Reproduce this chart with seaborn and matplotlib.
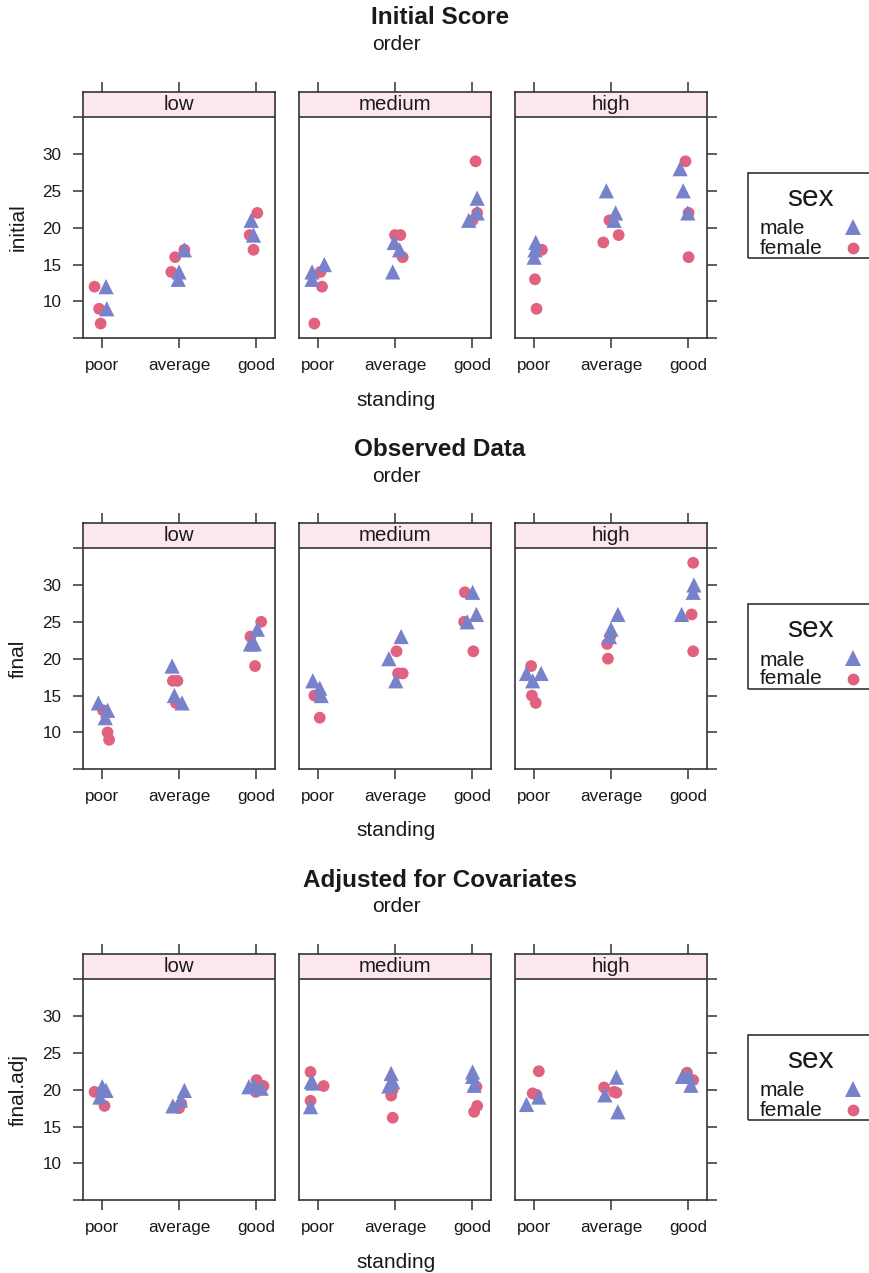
import matplotlib
matplotlib.use("Agg")
import matplotlib.pyplot as plt
import pandas as pd
import seaborn as sns
from matplotlib.patches import Rectangle
from matplotlib.lines import Line2D

sns.set_theme(style="white")
plt.rcParams['font.family'] = ['Liberation Sans', 'DejaVu Sans']

ORDERS = ["low", "medium", "high"]
STANDINGS = ["poor", "average", "good"]
SECTION_TITLES = ["Initial Score", "Observed Data", "Adjusted for Covariates"]
Y_LABELS = ["initial", "final", "final.adj"]
Y_TICKS = [5, 10, 15, 20, 25, 30, 35]
Y_TICK_LABELS = ["", "10", "15", "20", "25", "30", ""]
LEGEND_TITLE = "sex"
LEGEND_LABELS = ["male", "female"]

# (order, standing, sex, value, horizontal jitter)
initial_points = [
    ("low", "poor", "female", 12, -0.10), ("low", "poor", "male", 12, 0.05),
    ("low", "poor", "female", 9, -0.04), ("low", "poor", "male", 9, 0.06),
    ("low", "poor", "female", 7, -0.02),
    ("low", "average", "female", 14, -0.10), ("low", "average", "female", 16, -0.05),
    ("low", "average", "male", 14, 0.00), ("low", "average", "male", 13, -0.01),
    ("low", "average", "female", 17, 0.07), ("low", "average", "male", 17, 0.07),
    ("low", "good", "female", 22, 0.02), ("low", "good", "male", 21, -0.06),
    ("low", "good", "female", 19, -0.08), ("low", "good", "male", 19, -0.03),
    ("low", "good", "female", 17, -0.03),
    ("medium", "poor", "male", 14, -0.08), ("medium", "poor", "male", 13, -0.08),
    ("medium", "poor", "female", 14, 0.03), ("medium", "poor", "male", 15, 0.08),
    ("medium", "poor", "female", 12, 0.05), ("medium", "poor", "female", 7, -0.05),
    ("medium", "average", "female", 19, 0.00), ("medium", "average", "female", 19, 0.07),
    ("medium", "average", "male", 18, -0.01), ("medium", "average", "male", 17, 0.06),
    ("medium", "average", "female", 16, 0.10), ("medium", "average", "male", 14, -0.03),
    ("medium", "good", "female", 29, 0.05), ("medium", "good", "male", 24, 0.07),
    ("medium", "good", "female", 22, 0.07), ("medium", "good", "male", 22, 0.07),
    ("medium", "good", "male", 21, -0.04), ("medium", "good", "female", 21, 0.01),
    ("high", "poor", "male", 18, 0.02), ("high", "poor", "male", 17, 0.01),
    ("high", "poor", "male", 16, 0.00), ("high", "poor", "female", 17, 0.10),
    ("high", "poor", "female", 13, 0.01), ("high", "poor", "female", 9, 0.03),
    ("high", "average", "male", 25, -0.06), ("high", "average", "male", 22, 0.06),
    ("high", "average", "male", 21, 0.04), ("high", "average", "female", 21, -0.02),
    ("high", "average", "female", 19, 0.10), ("high", "average", "female", 18, -0.10),
    ("high", "good", "female", 29, -0.03), ("high", "good", "male", 28, -0.10),
    ("high", "good", "male", 25, -0.06), ("high", "good", "female", 22, 0.01),
    ("high", "good", "male", 22, 0.00), ("high", "good", "female", 16, 0.01),
]

final_points = [
    ("low", "poor", "male", 14, -0.05), ("low", "poor", "female", 13, 0.01),
    ("low", "poor", "male", 13, 0.07), ("low", "poor", "male", 12, 0.04),
    ("low", "poor", "female", 10, 0.07), ("low", "poor", "female", 9, 0.09),
    ("low", "average", "male", 19, -0.09), ("low", "average", "female", 17, -0.08),
    ("low", "average", "female", 17, -0.02), ("low", "average", "male", 15, -0.06),
    ("low", "average", "female", 14, -0.04), ("low", "average", "male", 14, 0.04),
    ("low", "good", "female", 25, 0.07), ("low", "good", "male", 24, 0.02),
    ("low", "good", "female", 23, -0.07), ("low", "good", "male", 22, -0.07),
    ("low", "good", "male", 22, -0.02), ("low", "good", "female", 19, -0.01),
    ("medium", "poor", "male", 17, -0.07), ("medium", "poor", "male", 16, 0.02),
    ("medium", "poor", "female", 15, -0.05), ("medium", "poor", "female", 15, 0.00),
    ("medium", "poor", "male", 15, 0.04), ("medium", "poor", "female", 12, 0.02),
    ("medium", "average", "male", 23, 0.08), ("medium", "average", "female", 21, 0.02),
    ("medium", "average", "male", 20, -0.08), ("medium", "average", "female", 18, 0.04),
    ("medium", "average", "female", 18, 0.10), ("medium", "average", "male", 17, 0.01),
    ("medium", "good", "female", 29, -0.09), ("medium", "good", "male", 29, 0.01),
    ("medium", "good", "male", 26, 0.06), ("medium", "good", "female", 25, -0.10),
    ("medium", "good", "male", 25, -0.06), ("medium", "good", "female", 21, 0.02),
    ("high", "poor", "female", 19, -0.04), ("high", "poor", "male", 18, -0.10),
    ("high", "poor", "male", 18, 0.09), ("high", "poor", "male", 17, -0.02),
    ("high", "poor", "female", 15, -0.03), ("high", "poor", "female", 14, 0.02),
    ("high", "average", "male", 26, 0.09), ("high", "average", "female", 23, -0.01),
    ("high", "average", "male", 24, 0.00), ("high", "average", "male", 23, -0.02),
    ("high", "average", "female", 22, -0.05), ("high", "average", "female", 20, -0.04),
    ("high", "good", "female", 33, 0.07), ("high", "good", "male", 30, 0.08),
    ("high", "good", "male", 29, 0.07), ("high", "good", "female", 26, 0.05),
    ("high", "good", "male", 26, -0.08), ("high", "good", "female", 21, 0.07),
]

adjusted_points = [
    ("low", "poor", "female", 19.7, -0.10), ("low", "poor", "female", 17.8, 0.03),
    ("low", "poor", "male", 20.4, 0.00), ("low", "poor", "male", 19.0, -0.03),
    ("low", "poor", "male", 19.9, 0.05),
    ("low", "average", "female", 17.5, 0.00), ("low", "average", "female", 18.1, 0.03),
    ("low", "average", "male", 17.8, -0.08), ("low", "average", "male", 18.6, 0.02),
    ("low", "average", "male", 19.9, 0.07),
    ("low", "good", "female", 21.3, 0.01), ("low", "good", "female", 20.5, 0.10),
    ("low", "good", "female", 19.7, 0.00), ("low", "good", "male", 20.4, -0.09),
    ("low", "good", "male", 20.2, 0.07), ("low", "good", "male", 20.6, -0.02),
    ("medium", "poor", "female", 22.4, -0.10), ("medium", "poor", "female", 20.5, 0.07),
    ("medium", "poor", "female", 18.5, -0.10), ("medium", "poor", "male", 21.1, -0.09),
    ("medium", "poor", "male", 20.9, -0.07), ("medium", "poor", "male", 17.7, -0.10),
    ("medium", "average", "female", 20.0, -0.03), ("medium", "average", "female", 19.2, -0.05),
    ("medium", "average", "female", 16.2, -0.03), ("medium", "average", "male", 22.2, -0.05),
    ("medium", "average", "male", 21.1, -0.03), ("medium", "average", "male", 20.5, -0.08),
    ("medium", "good", "female", 20.4, 0.06), ("medium", "good", "female", 17.8, 0.07),
    ("medium", "good", "female", 17.0, 0.03), ("medium", "good", "male", 22.4, 0.01),
    ("medium", "good", "male", 21.8, 0.01), ("medium", "good", "male", 20.6, 0.03),
    ("high", "poor", "female", 22.5, 0.06), ("high", "poor", "female", 19.5, -0.02),
    ("high", "poor", "female", 19.3, 0.03), ("high", "poor", "male", 19.0, 0.06),
    ("high", "poor", "male", 18.0, -0.10),
    ("high", "average", "female", 20.3, -0.09), ("high", "average", "female", 19.6, 0.07),
    ("high", "average", "female", 19.7, 0.04), ("high", "average", "male", 21.7, 0.07),
    ("high", "average", "male", 19.3, -0.08), ("high", "average", "male", 17.0, 0.09),
    ("high", "good", "female", 22.3, -0.01), ("high", "good", "female", 21.3, 0.07),
    ("high", "good", "male", 21.8, -0.07), ("high", "good", "male", 21.9, 0.01),
    ("high", "good", "male", 20.6, 0.04),
]

SECTIONS = [initial_points, final_points, adjusted_points]

COL_MALE = "#7882CA"
COL_FEMALE = "#E0627F"
STRIP_BG = "#FDE7EE"
EDGE = "#333333"
TEXT = "#1a1a1a"

W, H = 870, 1273
fig = plt.figure(figsize=(W / 100, H / 100), dpi=100)


def fx(x):
    return x / W


def fy(y):
    return 1 - y / H


SEC_DY = 431
PANEL_L0 = 83
PANEL_W = 192
PANEL_GAP = 216
AX_TOP = 92
AX_BOT = 338.3
YMIN, YSTRIP, YMAX = 5, 35, 38.4

for s, pts in enumerate(SECTIONS):
    off = s * SEC_DY
    df = pd.DataFrame(pts, columns=["order", "standing", "sex", "value", "jitter"])
    df["x"] = df["standing"].map({k: i + 1 for i, k in enumerate(STANDINGS)}) + df["jitter"]

    for p, order in enumerate(ORDERS):
        left = PANEL_L0 + p * PANEL_GAP
        ax = fig.add_axes([fx(left), fy(AX_BOT + off), PANEL_W / W, (AX_BOT - AX_TOP) / H])
        ax.set_xlim(0.75, 3.25)
        ax.set_ylim(YMIN, YMAX)
        ax.axhspan(YSTRIP, YMAX, color=STRIP_BG, zorder=0, lw=0)
        ax.axhline(YSTRIP, color=EDGE, lw=1.2, zorder=4)
        ax.text(2, (YSTRIP + YMAX) / 2, order, ha="center", va="center",
                fontsize=14.7, color=TEXT, zorder=5)
        sub = df[df["order"] == order]
        fem = sub[sub["sex"] == "female"]
        mal = sub[sub["sex"] == "male"]
        sns.scatterplot(data=fem, x="x", y="value", marker="o", s=72, color=COL_FEMALE,
                        edgecolor="none", linewidth=0, ax=ax, legend=False, zorder=3)
        sns.scatterplot(data=mal, x="x", y="value", marker="^", s=120, color=COL_MALE,
                        edgecolor="none", linewidth=0, ax=ax, legend=False, zorder=3)
        ax.set_xlabel("")
        ax.set_ylabel("")
        for sp in ax.spines.values():
            sp.set_color(EDGE)
            sp.set_linewidth(1.2)
        ax.set_xticks([1, 2, 3])
        ax.set_xticklabels(STANDINGS)
        ax.tick_params(axis="x", direction="out", length=7.5, width=1.1, color=EDGE,
                       top=True, bottom=True, labeltop=False, labelbottom=True,
                       pad=7, labelsize=12.3, labelcolor=TEXT)
        ax.set_yticks(Y_TICKS)
        ax.set_yticklabels(Y_TICK_LABELS)
        if p == 0:
            ax.tick_params(axis="y", direction="out", length=7.5, width=1.1, color=EDGE,
                           left=True, right=False, labelleft=True, labelright=False,
                           pad=8, labelsize=12.3, labelcolor=TEXT)
        elif p == 2:
            ax.tick_params(axis="y", direction="out", length=7.5, width=1.1, color=EDGE,
                           left=False, right=True, labelleft=False, labelright=False)
        else:
            ax.tick_params(axis="y", left=False, right=False, labelleft=False,
                           labelright=False)
        ax.grid(False)

    # titles and labels
    fig.text(fx(440), fy(18 + off), SECTION_TITLES[s], ha="center", va="center",
             fontsize=17.5, fontweight="bold", color=TEXT)
    fig.text(fx(396), fy(45 + off), "order", ha="center", va="center",
             fontsize=15, color=TEXT)
    fig.text(fx(396), fy(400 + off), "standing", ha="center", va="center",
             fontsize=15, color=TEXT)
    fig.text(fx(18), fy(227.5 + off), Y_LABELS[s], ha="center", va="center",
             rotation=90, fontsize=15, color=TEXT)

    # legend
    box = Rectangle((fx(748), fy(258 + off)), fx(130), (258 - 172.7) / H,
                    transform=fig.transFigure, fill=False, edgecolor=EDGE, lw=1.2,
                    clip_on=False)
    fig.add_artist(box)
    fig.text(fx(810), fy(198 + off), LEGEND_TITLE, ha="center", va="center",
             fontsize=21.5, color=TEXT)
    fig.text(fx(760), fy(229 + off), LEGEND_LABELS[0], ha="left", va="center",
             fontsize=15, color=TEXT)
    fig.text(fx(760), fy(248 + off), LEGEND_LABELS[1], ha="left", va="center",
             fontsize=15, color=TEXT)
    fig.add_artist(Line2D([fx(853)], [fy(227 + off)], marker="^", markersize=11,
                          color=COL_MALE, markeredgewidth=0, linestyle="none",
                          transform=fig.transFigure))
    fig.add_artist(Line2D([fx(853)], [fy(248 + off)], marker="o", markersize=8.5,
                          color=COL_FEMALE, markeredgewidth=0, linestyle="none",
                          transform=fig.transFigure))

fig.savefig("out.png", dpi=100, facecolor="white")
